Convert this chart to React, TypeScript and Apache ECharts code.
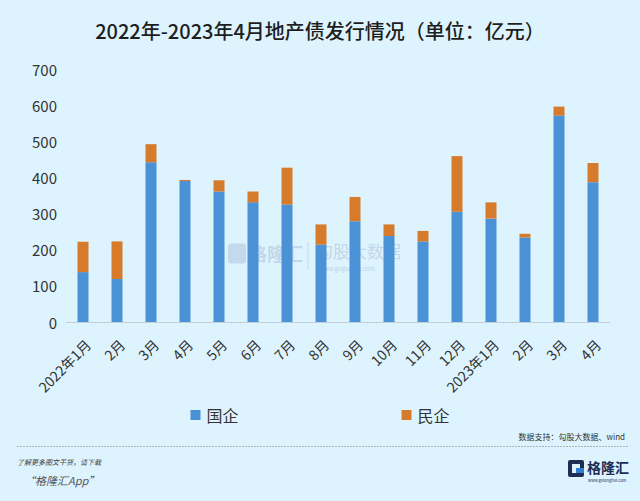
import React, { useEffect, useRef } from "react";
import * as echarts from "echarts";

const categories = [
  "2022年1月", "2月", "3月", "4月", "5月", "6月", "7月", "8月", "9月", "10月", "11月", "12月",
  "2023年1月", "2月", "3月", "4月",
];
const stateOwned = [138, 119, 442, 390, 361, 331, 325, 214, 279, 238, 223, 305, 286, 234, 571, 387];
const privateOwned = [84, 104, 50, 3, 31, 30, 102, 56, 67, 32, 29, 154, 45, 10, 25, 53];
const yTicks = { min: 0, max: 700, interval: 100 };

const FONT = '"Noto Sans CJK SC", "Noto Sans", sans-serif';

export default function App() {
  const ref = useRef<HTMLDivElement>(null);
  useEffect(() => {
    if (!ref.current) return;
    const chart = echarts.init(ref.current, null, { renderer: "svg" });
    chart.setOption({
      animation: false,
      backgroundColor: "#ddf3fd",
      textStyle: { fontFamily: FONT },
      title: {
        text: "2022年-2023年4月地产债发行情况（单位：亿元）",
        left: "center",
        top: 15,
        textStyle: { fontSize: 20, fontWeight: 500, color: "#1e1e1e", fontFamily: FONT },
      },
      grid: { left: 66, right: 30, top: 69, bottom: 179, containLabel: false },
      legend: {
        left: "center",
        top: 402,
        itemWidth: 10,
        itemHeight: 10,
        itemGap: 163,
        icon: "rect",
        textStyle: { fontSize: 16, color: "#333", fontFamily: FONT, padding: [0, 0, 0, 1] },
        data: ["国企", "民企"],
      },
      xAxis: {
        type: "category",
        data: categories,
        axisLine: { lineStyle: { color: "#c3d0da", width: 1 } },
        axisTick: { show: false },
        axisLabel: {
          rotate: 45,
          interval: 0,
          fontSize: 14,
          color: "#333",
          margin: 15,
          verticalAlign: "top",
          fontFamily: FONT,
        },
      },
      yAxis: {
        type: "value",
        min: yTicks.min,
        max: yTicks.max,
        interval: yTicks.interval,
        splitLine: { show: false },
        axisLine: { show: false },
        axisTick: { show: false },
        axisLabel: { fontSize: 15, color: "#333", margin: 9, fontFamily: FONT },
      },
      series: [
        {
          name: "国企",
          type: "bar",
          stack: "total",
          barWidth: 11,
          itemStyle: { color: "#4a91d6" },
          data: stateOwned,
        },
        {
          name: "民企",
          type: "bar",
          stack: "total",
          barWidth: 11,
          itemStyle: { color: "#d67a2c" },
          data: privateOwned,
        },
      ],
      graphic: [
        // watermark
        {
          type: "group",
          left: 228,
          top: 239,
          silent: true,
          children: [
            { type: "rect", shape: { x: 0, y: 2, width: 18, height: 20, r: 3 }, style: { fill: "rgba(150,170,200,0.35)" } },
            { type: "text", style: { x: 21, y: 2, text: "格隆汇", fontSize: 18, lineHeight: 18, fontWeight: "bold", fill: "rgba(150,170,200,0.4)", fontFamily: FONT } },
            { type: "line", shape: { x1: 80, y1: 0, x2: 80, y2: 28 }, style: { stroke: "rgba(150,170,200,0.35)", lineWidth: 1 } },
            { type: "text", style: { x: 88, y: 0, text: "勾股大数据", fontSize: 17, lineHeight: 17, fill: "rgba(150,170,200,0.4)", fontFamily: FONT } },
            { type: "text", style: { x: 91, y: 24, text: "www.gogudata.com", fontSize: 6, lineHeight: 6, fill: "rgba(150,170,200,0.5)", fontFamily: FONT } },
          ],
        },
        {
          type: "text",
          right: 15,
          top: 432,
          style: { text: "数据支持：勾股大数据、wind", fontSize: 8, fill: "#333", fontFamily: FONT },
        },
        {
          type: "line",
          shape: { x1: 17, y1: 446.5, x2: 628, y2: 446.5 },
          style: { stroke: "#a9b4bf", lineWidth: 1, lineDash: [2, 1] },
        },
        {
          type: "text",
          left: 17,
          top: 458,
          style: { text: "了解更多图文干货，请下载", fontSize: 7, fill: "#444", fontStyle: "italic", fontFamily: FONT },
        },
        {
          type: "text",
          left: 24,
          top: 474,
          style: { text: "“格隆汇App”", fontSize: 11, fill: "#555", fontStyle: "italic", fontFamily: FONT },
        },
        // bottom-right logo
        {
          type: "group",
          left: 568,
          top: 460,
          children: [
            { type: "rect", shape: { x: 0, y: 0, width: 16, height: 17, r: 2 }, style: { fill: "#1f2d55" } },
            { type: "rect", shape: { x: 4, y: 4, width: 8, height: 9 }, style: { fill: "#ddf3fd" } },
            { type: "rect", shape: { x: 8, y: 8, width: 8, height: 5 }, style: { fill: "#2f7fd6" } },
            { type: "text", style: { x: 19, y: 0, text: "格隆汇", fontSize: 14, lineHeight: 14, fontWeight: "bold", fill: "#1f2d55", fontFamily: FONT } },
            { type: "text", style: { x: 20, y: 18, text: "www.gelonghui.com", fontSize: 4, lineHeight: 4, fill: "#1f2d55", fontFamily: FONT } },
          ],
        },
      ],
    });
    return () => chart.dispose();
  }, []);
  return (
    <div
      ref={ref}
      style={{ position: "fixed", left: 0, top: 0, width: 640, height: 501 }}
    />
  );
}
